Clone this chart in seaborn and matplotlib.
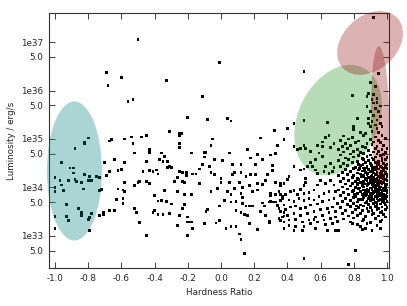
import numpy as np
import pandas as pd
import seaborn as sns
import matplotlib
matplotlib.use("Agg")
import matplotlib.pyplot as plt
import matplotlib.transforms as mtransforms
from matplotlib.patches import Ellipse
from matplotlib.ticker import FixedLocator, FixedFormatter, NullLocator

# (hardness ratio, log10 luminosity), by area
soft_pts = [
    (-0.82, 34.91), (-0.96, 34.51), (-0.91, 34.40), (-0.89, 34.40), (-0.89, 34.30),
    (-1.00, 34.20), (-0.97, 34.14), (-0.96, 34.05), (-1.00, 34.00), (-1.00, 33.91),
    (-0.95, 33.93), (-0.92, 34.15), (-0.88, 34.16), (-0.87, 34.12), (-0.84, 34.11),
    (-0.82, 34.26), (-0.80, 34.14), (-0.79, 34.23), (-0.78, 34.14), (-0.75, 34.23),
    (-0.73, 34.20), (-0.83, 33.97), (-0.72, 33.96), (-0.73, 33.93), (-0.93, 33.65),
    (-0.86, 33.56), (-0.84, 33.49), (-0.93, 33.40), (-0.92, 33.32), (-1.00, 33.40),
    (-1.00, 33.16), (-0.84, 33.42), (-0.78, 33.47), (-0.79, 33.38), (-0.80, 33.34),
    (-0.79, 33.12), (-0.73, 33.43), (-0.71, 33.45), (-0.71, 33.49), (-0.88, 34.80),
    (-0.82, 34.92), (-0.80, 35.02),
]

bright_pts = [
    (-0.50, 37.05), (-0.69, 36.37), (-0.60, 36.27), (-0.68, 36.11), (-0.33, 36.21),
    (-0.56, 35.78), (-0.53, 35.82), (-0.31, 35.16), (-0.45, 35.08), (-0.48, 35.04),
    (-0.54, 35.04), (-0.58, 35.00), (-0.66, 34.99), (-0.64, 34.58), (-0.52, 34.71),
    (-0.53, 34.90), (-0.01, 36.57), (-0.11, 35.87), (-0.20, 35.44), (-0.08, 35.41),
    (0.04, 35.43), (0.06, 35.37), (-0.25, 35.11), (-0.25, 35.07), (-0.24, 35.11),
    (-0.05, 35.00), (0.24, 35.02), (0.32, 35.17), (0.38, 35.00), (0.50, 36.39),
    (0.79, 35.90), (0.92, 37.51), (0.64, 35.34), (0.50, 35.38), (0.44, 35.32),
    (0.40, 35.22), (0.82, 35.43), (0.80, 35.25), (0.80, 35.20), (0.84, 35.13),
    (0.87, 35.12), (-0.67, 34.96),
]

hard_bright_pts = [
    (0.95, 36.35), (0.90, 36.16), (0.93, 36.09), (0.89, 35.94), (0.92, 35.91),
    (0.94, 35.84), (0.91, 35.82), (0.92, 35.74), (0.94, 35.75), (0.88, 35.67),
    (0.96, 35.68), (0.93, 35.63), (0.90, 35.56), (0.95, 35.56), (0.92, 35.49),
    (0.96, 35.46), (0.89, 35.43), (0.94, 35.39), (0.91, 35.36), (0.96, 35.32),
    (0.93, 35.29), (0.90, 35.25), (0.94, 35.22), (0.97, 35.25), (0.91, 35.15),
    (0.95, 35.13), (0.88, 35.87), (0.89, 35.32),
]

midleft_pts = [
    (-0.70, 34.51), (-0.67, 34.33), (-0.69, 34.25), (-0.67, 33.53), (-0.64, 33.52),
    (-0.62, 33.97), (-0.63, 33.76), (-0.62, 34.35), (-0.60, 34.37), (-0.58, 34.51),
    (-0.58, 34.10), (-0.59, 33.95), (-0.58, 33.91), (-0.59, 33.78), (-0.59, 33.67),
    (-0.52, 33.56), (-0.51, 33.49), (-0.49, 33.28), (-0.45, 33.01), (-0.43, 34.79),
    (-0.43, 34.72), (-0.36, 34.71), (-0.34, 34.64), (-0.37, 34.57), (-0.35, 34.54),
    (-0.32, 34.53), (-0.32, 34.42), (-0.45, 34.53), (-0.47, 34.33), (-0.43, 34.35),
    (-0.41, 34.33), (-0.38, 34.28), (-0.39, 34.36), (-0.49, 34.13), (-0.50, 34.10),
    (-0.52, 34.04), (-0.45, 34.13), (-0.43, 34.09), (-0.40, 33.83), (-0.38, 33.72),
    (-0.36, 33.73), (-0.33, 33.71), (-0.34, 33.93), (-0.40, 33.53), (-0.41, 33.49),
    (-0.38, 33.45), (-0.35, 33.45), (-0.31, 33.47),
]

middle_pts = [
    (-0.25, 34.90), (-0.25, 34.83), (-0.06, 34.86), (0.16, 34.79), (0.34, 34.86),
    (-0.18, 34.71), (-0.10, 34.72), (-0.09, 34.72), (-0.10, 34.63), (0.05, 34.71),
    (0.18, 34.61), (0.22, 34.68), (0.30, 34.67), (0.33, 34.70), (-0.31, 34.44),
    (-0.30, 34.42), (-0.04, 34.57), (0.01, 34.55), (-0.11, 34.48), (-0.07, 34.44),
    (0.07, 34.47), (0.12, 34.48), (0.21, 34.48), (0.25, 34.58), (0.31, 34.46),
    (0.31, 34.35), (-0.25, 34.33), (-0.23, 34.31), (-0.21, 34.31), (-0.21, 34.25),
    (-0.17, 34.28), (-0.15, 34.28), (-0.13, 34.38), (-0.06, 34.31), (-0.04, 34.27),
    (0.00, 34.18), (0.07, 34.26), (0.08, 34.31), (0.12, 34.31), (0.15, 34.23),
    (0.18, 34.26), (0.21, 34.26), (0.28, 34.26), (-0.28, 34.13), (-0.26, 34.21),
    (-0.23, 34.13), (-0.22, 34.11), (-0.13, 34.08), (0.00, 34.11), (0.05, 34.10),
    (0.11, 34.10), (0.17, 34.04), (0.22, 34.09), (0.27, 34.15), (0.33, 34.10),
    (0.36, 34.09), (0.25, 34.06), (-0.26, 33.92), (-0.22, 33.86), (-0.18, 33.86),
    (-0.06, 33.92), (-0.02, 33.98), (0.04, 33.91), (0.06, 33.86), (0.08, 33.98),
    (0.12, 33.88), (0.13, 34.00), (0.19, 33.91), (0.22, 33.95), (0.30, 33.88),
    (0.30, 33.84), (0.33, 33.85), (0.35, 33.91), (0.36, 33.85), (0.37, 33.81),
    (-0.30, 33.66), (-0.22, 33.65), (-0.23, 33.56), (0.02, 33.73), (0.06, 33.70),
    (0.09, 33.71), (0.13, 33.80), (0.13, 33.67), (0.15, 33.62), (0.17, 33.62),
    (0.19, 33.62), (0.25, 33.68), (0.26, 33.62), (0.29, 33.70), (0.30, 33.72),
    (0.31, 33.70), (0.33, 33.70), (0.34, 33.63), (0.35, 33.56), (0.36, 33.50),
    (0.38, 33.49), (-0.01, 33.62), (-0.08, 33.55), (-0.09, 33.50), (0.09, 33.52),
    (0.12, 33.48), (0.14, 33.44), (0.16, 33.43), (0.24, 33.51), (0.27, 33.43),
    (-0.25, 33.43), (-0.20, 33.39), (-0.20, 33.29), (-0.19, 33.29), (-0.18, 33.29),
    (-0.01, 33.32), (-0.03, 33.27), (-0.03, 33.27), (-0.10, 33.25), (-0.26, 33.22),
    (-0.17, 33.16), (0.03, 33.15), (0.06, 33.19), (0.09, 33.19), (0.17, 33.26),
    (0.22, 33.14), (0.29, 33.31), (0.29, 33.27), (0.35, 33.36), (0.36, 33.32),
    (0.38, 33.41), (0.11, 33.04), (0.12, 32.93), (-0.20, 33.01), (0.14, 32.64),
]

faint_pts = [
    (0.50, 32.53), (0.77, 32.42), (0.81, 32.70), (0.64, 33.11), (0.71, 33.11),
    (0.85, 33.14), (0.84, 33.19), (0.87, 33.15), (0.91, 33.11), (0.96, 33.16),
    (0.79, 33.25),
]

medium_pts = [
    (0.38, 34.99), (0.44, 34.84), (0.46, 34.79), (0.48, 34.80), (0.50, 34.87),
    (0.51, 34.80), (0.54, 34.74), (0.58, 34.86), (0.61, 34.94), (0.63, 35.03),
    (0.65, 35.07), (0.61, 34.84), (0.59, 34.71), (0.61, 34.64), (0.57, 34.58),
    (0.54, 34.51), (0.52, 34.44), (0.55, 34.44), (0.57, 34.36), (0.50, 34.38),
    (0.48, 34.36), (0.44, 34.44), (0.63, 34.43), (0.66, 34.83), (0.68, 34.91),
    (0.66, 34.50), (0.68, 34.42), (0.67, 34.33), (0.62, 34.33), (0.58, 34.29),
    (0.65, 34.29), (0.51, 34.19), (0.51, 34.10), (0.50, 34.04), (0.41, 34.22),
    (0.40, 34.17), (0.38, 34.09), (0.36, 34.03), (0.48, 33.96), (0.44, 33.93),
    (0.42, 33.91), (0.39, 33.85), (0.37, 33.78), (0.36, 33.73), (0.46, 33.85),
    (0.50, 33.88), (0.53, 33.89), (0.56, 33.95), (0.58, 34.05), (0.60, 34.15),
    (0.63, 34.09), (0.66, 34.15), (0.68, 34.05), (0.69, 33.91), (0.65, 33.91),
    (0.62, 33.88), (0.59, 33.81), (0.56, 33.74), (0.53, 33.78), (0.50, 33.73),
    (0.47, 33.78), (0.44, 33.71), (0.41, 33.74), (0.38, 33.64), (0.39, 33.55),
    (0.42, 33.60), (0.45, 33.62), (0.48, 33.57), (0.51, 33.59), (0.54, 33.64),
    (0.58, 33.66), (0.61, 33.71), (0.65, 33.74), (0.68, 33.78), (0.70, 33.67),
    (0.67, 33.60), (0.64, 33.57), (0.60, 33.54), (0.56, 33.50), (0.52, 33.47),
    (0.48, 33.43), (0.44, 33.47), (0.40, 33.43), (0.37, 33.39), (0.38, 33.29),
    (0.41, 33.33), (0.45, 33.34), (0.49, 33.29), (0.53, 33.33), (0.57, 33.39),
    (0.61, 33.43), (0.65, 33.48), (0.69, 33.50), (0.69, 33.39), (0.66, 33.36),
    (0.62, 33.33), (0.58, 33.29), (0.54, 33.25), (0.50, 33.19), (0.45, 33.19),
    (0.41, 33.21), (0.38, 33.16), (0.56, 33.34), (0.63, 33.23), (0.67, 33.26),
    (0.70, 33.30), (0.69, 33.12), (0.57, 33.16), (0.49, 33.11), (0.44, 33.12),
]

hard_pts = [
    (0.74, 35.06), (0.79, 35.03), (0.86, 35.07), (0.93, 35.04), (0.97, 35.08),
    (0.72, 34.97), (0.77, 35.00), (0.83, 34.96), (0.90, 34.99), (0.95, 34.97), (0.99, 35.01),
    (0.75, 34.91), (0.81, 34.93), (0.88, 34.90), (0.92, 34.94), (0.96, 34.92),
    (0.73, 34.85), (0.78, 34.87), (0.85, 34.84), (0.91, 34.88), (0.94, 34.85), (0.98, 34.87),
    (0.71, 34.79), (0.76, 34.81), (0.82, 34.78), (0.87, 34.82), (0.93, 34.80), (0.97, 34.78),
    (1.00, 34.81),
    (0.74, 34.73), (0.80, 34.75), (0.84, 34.72), (0.89, 34.76), (0.92, 34.73), (0.95, 34.75),
    (0.99, 34.72),
    (0.72, 34.67), (0.78, 34.69), (0.83, 34.66), (0.86, 34.70), (0.90, 34.67), (0.94, 34.69),
    (0.96, 34.66), (0.98, 34.68),
    (0.75, 34.61), (0.80, 34.63), (0.85, 34.60), (0.88, 34.64), (0.91, 34.61), (0.93, 34.63),
    (0.97, 34.60), (1.00, 34.62),
    (0.71, 34.55), (0.77, 34.57), (0.82, 34.54), (0.86, 34.58), (0.89, 34.55), (0.92, 34.57),
    (0.95, 34.54), (0.97, 34.56), (0.99, 34.58),
    (0.74, 34.49), (0.79, 34.51), (0.83, 34.48), (0.87, 34.52), (0.90, 34.49), (0.93, 34.51),
    (0.95, 34.48), (0.98, 34.50), (1.00, 34.47),
    (0.72, 34.43), (0.76, 34.45), (0.81, 34.42), (0.84, 34.46), (0.88, 34.43), (0.91, 34.45),
    (0.94, 34.42), (0.96, 34.44), (0.97, 34.41), (0.99, 34.45),
    (0.75, 34.37), (0.80, 34.39), (0.83, 34.36), (0.86, 34.40), (0.89, 34.37), (0.91, 34.39),
    (0.93, 34.36), (0.95, 34.38), (0.98, 34.35), (1.00, 34.39),
    (0.73, 34.31), (0.78, 34.33), (0.82, 34.30), (0.85, 34.34), (0.87, 34.31), (0.90, 34.33),
    (0.92, 34.30), (0.94, 34.32), (0.96, 34.29), (0.97, 34.33), (0.99, 34.31),
    (0.71, 34.25), (0.76, 34.27), (0.80, 34.24), (0.84, 34.28), (0.86, 34.25), (0.88, 34.27),
    (0.91, 34.24), (0.93, 34.26), (0.95, 34.23), (0.97, 34.27), (0.98, 34.25), (1.00, 34.22),
    (0.74, 34.19), (0.79, 34.21), (0.82, 34.18), (0.85, 34.22), (0.87, 34.19), (0.89, 34.21),
    (0.90, 34.17), (0.92, 34.20), (0.94, 34.18), (0.96, 34.21), (0.98, 34.19), (0.99, 34.16),
    (0.72, 34.13), (0.77, 34.15), (0.81, 34.12), (0.83, 34.16), (0.86, 34.13), (0.88, 34.15),
    (0.90, 34.11), (0.91, 34.14), (0.93, 34.12), (0.95, 34.15), (0.96, 34.13), (0.98, 34.10),
    (1.00, 34.14),
    (0.75, 34.07), (0.79, 34.09), (0.82, 34.06), (0.84, 34.10), (0.87, 34.07), (0.89, 34.09),
    (0.91, 34.05), (0.92, 34.08), (0.94, 34.06), (0.95, 34.09), (0.97, 34.07), (0.99, 34.04),
    (0.73, 34.01), (0.78, 34.03), (0.81, 34.00), (0.85, 34.04), (0.86, 34.01), (0.88, 34.03),
    (0.90, 33.99), (0.92, 34.02), (0.93, 34.00), (0.95, 34.03), (0.96, 34.01), (0.98, 33.98),
    (0.99, 34.02),
    (0.71, 33.95), (0.76, 33.97), (0.80, 33.94), (0.83, 33.98), (0.86, 33.95), (0.88, 33.97),
    (0.89, 33.93), (0.91, 33.96), (0.93, 33.94), (0.94, 33.97), (0.96, 33.95), (0.97, 33.92),
    (0.99, 33.96), (1.00, 33.94),
    (0.74, 33.89), (0.79, 33.91), (0.82, 33.88), (0.84, 33.92), (0.87, 33.89), (0.89, 33.91),
    (0.90, 33.87), (0.92, 33.90), (0.94, 33.88), (0.95, 33.91), (0.97, 33.89), (0.98, 33.86),
    (1.00, 33.90),
    (0.72, 33.83), (0.77, 33.85), (0.81, 33.82), (0.85, 33.86), (0.87, 33.83), (0.88, 33.85),
    (0.90, 33.81), (0.91, 33.84), (0.93, 33.82), (0.95, 33.85), (0.96, 33.83), (0.98, 33.80),
    (0.99, 33.84),
    (0.75, 33.77), (0.80, 33.79), (0.83, 33.76), (0.86, 33.80), (0.89, 33.77), (0.91, 33.79),
    (0.92, 33.75), (0.94, 33.78), (0.96, 33.76), (0.97, 33.79), (0.99, 33.77),
    (0.73, 33.71), (0.78, 33.73), (0.82, 33.70), (0.85, 33.74), (0.88, 33.71), (0.90, 33.73),
    (0.93, 33.69), (0.95, 33.72), (0.97, 33.70), (0.98, 33.73), (1.00, 33.71),
    (0.76, 33.65), (0.80, 33.67), (0.84, 33.64), (0.87, 33.68), (0.89, 33.65), (0.92, 33.67),
    (0.94, 33.63), (0.96, 33.66), (0.99, 33.64),
    (0.72, 33.59), (0.78, 33.61), (0.83, 33.58), (0.86, 33.62), (0.90, 33.59), (0.93, 33.61),
    (0.95, 33.57), (0.97, 33.60), (1.00, 33.58),
    (0.75, 33.53), (0.81, 33.55), (0.85, 33.52), (0.88, 33.56), (0.91, 33.53), (0.94, 33.55),
    (0.97, 33.51), (0.99, 33.54),
    (0.73, 33.47), (0.79, 33.49), (0.84, 33.46), (0.89, 33.50), (0.92, 33.47), (0.96, 33.49),
    (0.98, 33.45),
    (0.77, 33.41), (0.82, 33.43), (0.87, 33.40), (0.91, 33.44), (0.95, 33.41), (0.99, 33.39),
    (0.74, 33.35), (0.80, 33.37), (0.86, 33.34), (0.93, 33.36), (0.97, 33.33),
    (0.78, 33.29), (0.85, 33.31), (0.90, 33.28), (0.96, 33.30),
    (0.82, 33.23), (0.88, 33.25), (0.94, 33.22),
]

# the solid black core of the hard cluster
hard_core_pts = [
    (0.855, 34.47), (0.875, 34.40), (0.905, 34.46), (0.925, 34.41), (0.945, 34.47), (0.985, 34.40),
    (0.865, 34.35), (0.885, 34.29), (0.915, 34.35), (0.935, 34.28), (0.965, 34.34), (0.995, 34.28),
    (0.845, 34.23), (0.875, 34.17), (0.905, 34.22), (0.925, 34.16), (0.955, 34.22), (0.985, 34.17),
    (0.855, 34.11), (0.885, 34.05), (0.915, 34.10), (0.935, 34.04), (0.965, 34.10), (0.995, 34.06),
    (0.835, 33.99), (0.875, 33.93), (0.905, 33.99), (0.925, 33.92), (0.955, 33.98), (0.985, 33.93),
    (0.865, 33.87), (0.895, 33.81), (0.915, 33.87), (0.945, 33.81), (0.965, 33.87), (0.995, 33.81),
    (0.845, 33.75), (0.875, 33.69), (0.905, 33.75), (0.935, 33.68), (0.955, 33.74), (0.985, 33.68),
    (0.825, 34.09), (0.805, 33.85), (0.835, 34.39), (0.815, 33.62),
]

y_ticks = [5e32, 1e33, 5e33, 1e34, 5e34, 1e35, 5e35, 1e36, 5e36, 1e37]
y_tick_labels = ["5.0", "1e33", "5.0", "1e34", "5.0", "1e35", "5.0", "1e36", "5.0", "1e37"]
x_ticks = [-1.0, -0.8, -0.6, -0.4, -0.2, 0.0, 0.2, 0.4, 0.6, 0.8, 1.0]

# highlighted regions: centre (hardness, log10 L), size in pixels, angle, colour, alpha
regions = [
    (-0.883, 34.34, 55, 139, 0, "teal", 0.33),
    (0.705, 35.39, 116, 80, 65, "green", 0.28),
    (0.898, 36.98, 74, 54, 42, "darkred", 0.3),
    (0.958, 35.47, 18, 140, 1, "darkred", 0.3),
]

all_pts = (soft_pts + bright_pts + hard_bright_pts + midleft_pts + middle_pts
           + faint_pts + medium_pts + hard_pts + hard_core_pts)
df = pd.DataFrame(all_pts, columns=["hardness", "loglum"])
df["luminosity"] = 10 ** df["loglum"]

sns.set_style("ticks")
plt.rcParams["font.family"] = ["DejaVu Sans"]
plt.rcParams["axes.unicode_minus"] = False

fig = plt.figure(figsize=(4.07, 3.06), dpi=100)
ax = fig.add_axes([0.1204, 0.1242, 0.8354, 0.8333])

sns.scatterplot(data=df, x="hardness", y="luminosity", ax=ax, marker="s",
                s=4, color="black", edgecolor="none", linewidth=0, zorder=2)

ax.set_yscale("log")
ax.set_xlim(-1.036, 1.012)
ax.set_ylim(10 ** 32.34, 10 ** 37.598)

for hr, ll, w, h, ang, col, alpha in regions:
    tr = fig.dpi_scale_trans + mtransforms.ScaledTranslation(hr, 10 ** ll, ax.transData)
    e = Ellipse((0, 0), w / 100, h / 100, angle=ang, transform=tr,
                facecolor=col, edgecolor="none", alpha=alpha, zorder=3, clip_on=False)
    ax.add_patch(e)

ax.yaxis.set_major_locator(FixedLocator(y_ticks))
ax.yaxis.set_major_formatter(FixedFormatter(y_tick_labels))
ax.yaxis.set_minor_locator(NullLocator())
ax.xaxis.set_major_locator(FixedLocator(x_ticks))
ax.set_xticklabels([f"{t:.1f}" for t in x_ticks])

ax.tick_params(axis="both", which="major", direction="in", length=4, width=0.6,
               top=True, right=True, labelsize=6.3, pad=4, colors="#222222")
for sp in ax.spines.values():
    sp.set_linewidth(0.8)
    sp.set_color("#333333")

ax.set_xlabel("Hardness Ratio", fontsize=6.3, color="#222222")
ax.set_ylabel("Luminosity / erg/s", fontsize=6.3, color="#222222")

fig.savefig("out.png", dpi=100)
